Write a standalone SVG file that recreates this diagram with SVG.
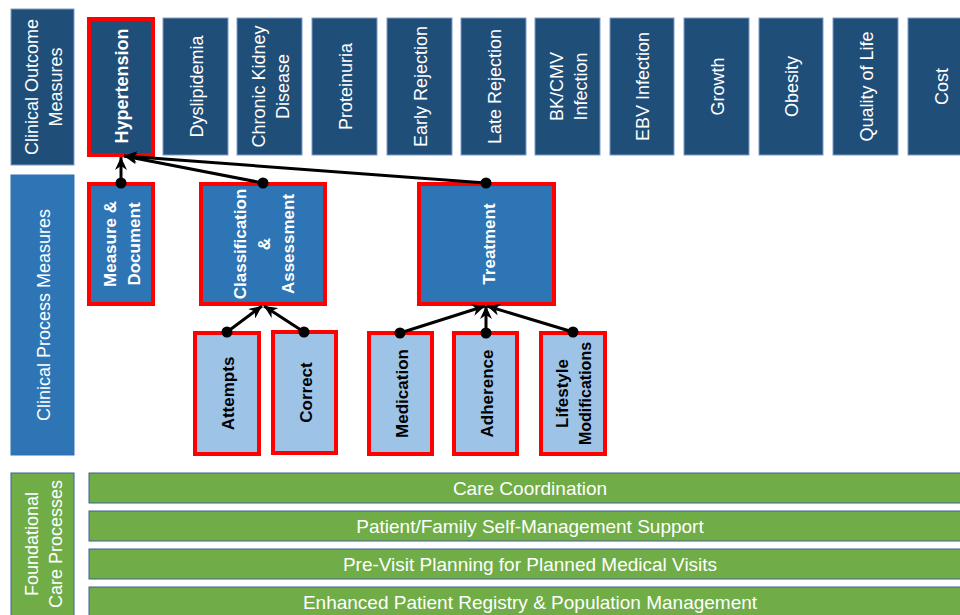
<svg xmlns="http://www.w3.org/2000/svg" width="960" height="615" viewBox="0 0 960 615">
<defs>
<marker id="arr" markerUnits="userSpaceOnUse" markerWidth="14" markerHeight="12" refX="13" refY="6" orient="auto">
<path d="M0,0 L13,6 L0,12 L4,6 z" fill="#000"/>
</marker>
<style>
.lab{font-family:"Liberation Sans",Arial,sans-serif;font-size:18px;fill:#fff}
.t{font-family:"Liberation Sans",Arial,sans-serif;font-size:18px;fill:#fff;text-anchor:middle}
.b{font-weight:bold}
.k{fill:#000}
.s17{font-size:17px}
.outc{fill:#1F4E79;stroke:#7F9CC8;stroke-width:1}
.proc{fill:#2E75B6;stroke:#2E75B6;stroke-width:1}
.mid{fill:#2E75B6;stroke:#FF0000;stroke-width:4}
.low{fill:#9DC3E6;stroke:#FF0000;stroke-width:4}
.red{stroke:#FF0000;stroke-width:4}
.grn{fill:#70AD47;stroke:#3F5F9A;stroke-width:1}
.con{stroke:#000;stroke-width:3;fill:none}
</style>
</defs>

<g id="label-outcome">
<rect class="outc" x="11" y="9" width="63" height="156"/>
<g transform="translate(42.5,87) rotate(-90)"><text class="t" x="0" y="-5">Clinical Outcome</text><text class="t" x="0" y="19">Measures</text></g>
</g>
<g id="label-process">
<rect class="proc" x="11" y="175" width="63" height="280"/>
<g transform="translate(42.5,315) rotate(-90)"><text class="t" x="0" y="7">Clinical Process Measures</text></g>
</g>
<g id="label-foundational">
<rect class="grn" x="11" y="473" width="63" height="150"/>
<g transform="translate(42.5,544) rotate(-90)"><text class="t" x="0" y="-5">Foundational</text><text class="t" x="0" y="19">Care Processes</text></g>
</g>

<g id="n-hypertension">
<rect class="outc red" x="89" y="19" width="64" height="136"/>
<g transform="translate(121,86) rotate(-90)"><text class="t b" x="0" y="7">Hypertension</text></g>
</g>
<g id="n-dyslipidemia">
<rect class="outc" x="163" y="18" width="65" height="137"/>
<g transform="translate(195.5,86.5) rotate(-90)"><text class="t" x="0" y="7">Dyslipidemia</text></g>
</g>
<g id="n-ckd">
<rect class="outc" x="237" y="18" width="65" height="137"/>
<g transform="translate(269.5,86.5) rotate(-90)"><text class="t" x="0" y="-5">Chronic Kidney</text><text class="t" x="0" y="19">Disease</text></g>
</g>
<g id="n-proteinuria">
<rect class="outc" x="312" y="18" width="65" height="137"/>
<g transform="translate(344.5,86.5) rotate(-90)"><text class="t" x="0" y="7">Proteinuria</text></g>
</g>
<g id="n-early">
<rect class="outc" x="387" y="18" width="65" height="137"/>
<g transform="translate(419.5,86.5) rotate(-90)"><text class="t" x="0" y="7">Early Rejection</text></g>
</g>
<g id="n-late">
<rect class="outc" x="461" y="18" width="65" height="137"/>
<g transform="translate(493.5,86.5) rotate(-90)"><text class="t" x="0" y="7">Late Rejection</text></g>
</g>
<g id="n-bkcmv">
<rect class="outc" x="535" y="18" width="65" height="137"/>
<g transform="translate(567.5,86.5) rotate(-90)"><text class="t" x="0" y="-5">BK/CMV</text><text class="t" x="0" y="19">Infection</text></g>
</g>
<g id="n-ebv">
<rect class="outc" x="610" y="18" width="64" height="137"/>
<g transform="translate(642,86.5) rotate(-90)"><text class="t" x="0" y="7">EBV Infection</text></g>
</g>
<g id="n-growth">
<rect class="outc" x="684" y="18" width="65" height="137"/>
<g transform="translate(716.5,86.5) rotate(-90)"><text class="t" x="0" y="7">Growth</text></g>
</g>
<g id="n-obesity">
<rect class="outc" x="759" y="18" width="64" height="137"/>
<g transform="translate(791,86.5) rotate(-90)"><text class="t" x="0" y="7">Obesity</text></g>
</g>
<g id="n-qol">
<rect class="outc" x="833" y="18" width="65" height="137"/>
<g transform="translate(865.5,86.5) rotate(-90)"><text class="t" x="0" y="7">Quality of Life</text></g>
</g>
<g id="n-cost">
<rect class="outc" x="908" y="18" width="65" height="137"/>
<g transform="translate(940.5,86.5) rotate(-90)"><text class="t" x="0" y="7">Cost</text></g>
</g>

<g id="n-measure">
<rect class="mid" x="89" y="184" width="64" height="120"/>
<g transform="translate(121,244) rotate(-90)"><text class="t b s17" x="0" y="-5">Measure &amp;</text><text class="t b s17" x="0" y="19">Document</text></g>
</g>
<g id="n-classification">
<rect class="mid" x="201" y="184" width="124" height="120"/>
<g transform="translate(263,244) rotate(-90)"><text class="t b s17" x="0" y="-17">Classification</text><text class="t b s17" x="0" y="7">&amp;</text><text class="t b s17" x="0" y="31">Assessment</text></g>
</g>
<g id="n-treatment">
<rect class="mid" x="419" y="184" width="135" height="120"/>
<g transform="translate(486.5,244) rotate(-90)"><text class="t b s17" x="0" y="8">Treatment</text></g>
</g>

<g id="n-attempts">
<rect class="low" x="195" y="333" width="64" height="121"/>
<g transform="translate(227,393.5) rotate(-90)"><text class="t b s17 k" x="0" y="7">Attempts</text></g>
</g>
<g id="n-correct">
<rect class="low" x="273" y="332" width="63" height="121"/>
<g transform="translate(304.5,392.5) rotate(-90)"><text class="t b s17 k" x="0" y="7">Correct</text></g>
</g>
<g id="n-medication">
<rect class="low" x="369" y="333" width="63" height="121"/>
<g transform="translate(400.5,393.5) rotate(-90)"><text class="t b s17 k" x="0" y="7">Medication</text></g>
</g>
<g id="n-adherence">
<rect class="low" x="454" y="333" width="63" height="121"/>
<g transform="translate(485.5,393.5) rotate(-90)"><text class="t b s17 k" x="0" y="7">Adherence</text></g>
</g>
<g id="n-lifestyle">
<rect class="low" x="541" y="333" width="64" height="121"/>
<g transform="translate(573,393.5) rotate(-90)"><text class="t b s17 k" x="0" y="-5">Lifestyle</text><text class="t b k" style="font-size:16px" x="0" y="18">Modifications</text></g>
</g>

<g id="n-care-coordination">
<rect class="grn" x="89" y="473" width="882" height="30"/>
<text class="t" style="font-size:19px" x="530" y="495">Care Coordination</text>
</g>
<g id="n-self-management">
<rect class="grn" x="89" y="511" width="882" height="30"/>
<text class="t" style="font-size:19px" x="530" y="533">Patient/Family Self-Management Support</text>
</g>
<g id="n-previsit">
<rect class="grn" x="89" y="549" width="882" height="30"/>
<text class="t" style="font-size:19px" x="530" y="571">Pre-Visit Planning for Planned Medical Visits</text>
</g>
<g id="n-registry">
<rect class="grn" x="89" y="587" width="882" height="32"/>
<text class="t" style="font-size:19px" x="530" y="609">Enhanced Patient Registry &amp; Population Management</text>
</g>

<g id="connectors">
<line class="con" x1="121" y1="183" x2="121" y2="157" marker-end="url(#arr)"/>
<line class="con" x1="263" y1="183" x2="124" y2="156" marker-end="url(#arr)"/>
<line class="con" x1="486" y1="183" x2="124" y2="156" marker-end="url(#arr)"/>
<line class="con" x1="227" y1="332" x2="262" y2="306" marker-end="url(#arr)"/>
<line class="con" x1="304" y1="332" x2="264" y2="306" marker-end="url(#arr)"/>
<line class="con" x1="400" y1="333" x2="485" y2="306" marker-end="url(#arr)"/>
<line class="con" x1="486" y1="333" x2="486" y2="306" marker-end="url(#arr)"/>
<line class="con" x1="573" y1="332" x2="487" y2="306" marker-end="url(#arr)"/>
<circle cx="121" cy="183" r="5.5"/>
<circle cx="263" cy="183" r="5.5"/>
<circle cx="486" cy="183" r="5.5"/>
<circle cx="227" cy="332" r="5.5"/>
<circle cx="304" cy="332" r="5.5"/>
<circle cx="400" cy="333" r="5.5"/>
<circle cx="486" cy="333" r="5.5"/>
<circle cx="573" cy="332" r="5.5"/>
</g>
</svg>
